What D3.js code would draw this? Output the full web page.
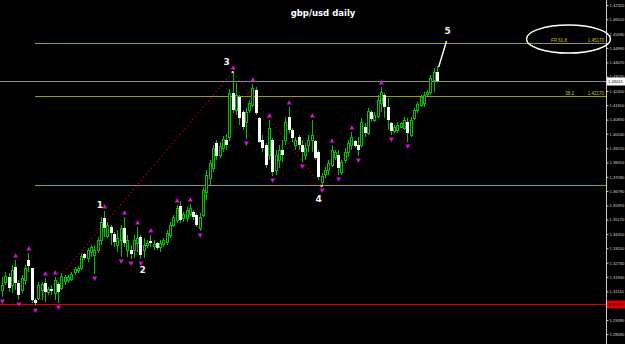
<!DOCTYPE html>
<html><head><meta charset="utf-8">
<script src="https://cdn.jsdelivr.net/npm/d3@7"></script>
<style>html,body{margin:0;padding:0;background:#000;overflow:hidden}svg{display:block}</style>
</head><body><svg id="c" width="625" height="344"></svg>
<script>
// ---- data (GBP/USD daily) ----
const openP  = [1.3119,1.3164,1.3192,1.3147,1.3249,1.3158,1.3119,1.3175,1.3288,1.3243,1.3062,1.3073,1.3119,1.3158,1.3107,1.3124,1.3102,1.3152,1.3130,1.3169,1.3175,1.3181,1.3220,1.3232,1.3243,1.3322,1.3300,1.3334,1.3317,1.3345,1.3402,1.3526,1.3424,1.3475,1.3436,1.3373,1.3402,1.3470,1.3345,1.3345,1.3345,1.3385,1.3419,1.3345,1.3373,1.3396,1.3368,1.3385,1.3362,1.3379,1.3390,1.3430,1.3487,1.3515,1.3594,1.3526,1.3526,1.3549,1.3560,1.3543,1.3470,1.3543,1.3673,1.3753,1.3809,1.3951,1.3883,1.3922,1.3968,1.3985,1.4234,1.4137,1.4211,1.4126,1.4069,1.4137,1.4166,1.4251,1.4092,1.3968,1.3939,1.3883,1.3968,1.3798,1.3854,1.3911,1.3968,1.4098,1.4024,1.3939,1.3985,1.3939,1.3883,1.3939,1.3968,1.3962,1.3900,1.3730,1.3775,1.3798,1.3826,1.3871,1.3883,1.3786,1.3854,1.3900,1.3939,1.3962,1.3939,1.3939,1.4041,1.4007,1.4126,1.4081,1.4103,1.4177,1.4222,1.4154,1.4064,1.4019,1.4024,1.4041,1.4036,1.4069,1.3996,1.4092,1.4137,1.4166,1.4177,1.4228,1.4239,1.4307,1.4352];
const highP  = [1.3192,1.3220,1.3215,1.3260,1.3288,1.3175,1.3203,1.3260,1.3328,1.3243,1.3073,1.3164,1.3164,1.3186,1.3135,1.3147,1.3192,1.3164,1.3215,1.3203,1.3203,1.3220,1.3249,1.3254,1.3328,1.3328,1.3356,1.3373,1.3373,1.3419,1.3532,1.3566,1.3503,1.3487,1.3447,1.3458,1.3487,1.3532,1.3430,1.3373,1.3430,1.3475,1.3430,1.3413,1.3402,1.3430,1.3402,1.3390,1.3402,1.3413,1.3458,1.3503,1.3543,1.3600,1.3622,1.3560,1.3588,1.3605,1.3571,1.3554,1.3554,1.3702,1.3798,1.3854,1.3939,1.3968,1.3956,1.3990,1.4002,1.4256,1.4352,1.4290,1.4222,1.4137,1.4149,1.4194,1.4285,1.4268,1.4098,1.3996,1.3951,1.4081,1.3979,1.3911,1.3939,1.3968,1.4098,1.4154,1.4036,1.3985,1.3996,1.3968,1.3951,1.3996,1.4081,1.3968,1.3911,1.3781,1.3815,1.3854,1.3939,1.3911,1.3911,1.3854,1.3922,1.3968,1.4013,1.3968,1.3985,1.4092,1.4064,1.4149,1.4137,1.4126,1.4222,1.4268,1.4234,1.4205,1.4069,1.4053,1.4069,1.4069,1.4098,1.4092,1.4098,1.4149,1.4183,1.4222,1.4239,1.4251,1.4336,1.4375,1.4386];
const lowP   = [1.3079,1.3147,1.3107,1.3102,1.3119,1.3062,1.3102,1.3147,1.3220,1.3045,1.3028,1.3062,1.3062,1.3051,1.3090,1.3090,1.3062,1.3045,1.3119,1.3147,1.3158,1.3169,1.3203,1.3215,1.3232,1.3288,1.3277,1.3305,1.3209,1.3328,1.3373,1.3419,1.3413,1.3373,1.3362,1.3334,1.3305,1.3362,1.3305,1.3294,1.3300,1.3334,1.3294,1.3300,1.3356,1.3362,1.3345,1.3345,1.3334,1.3362,1.3373,1.3413,1.3475,1.3498,1.3498,1.3503,1.3503,1.3532,1.3515,1.3475,1.3453,1.3532,1.3628,1.3713,1.3786,1.3854,1.3866,1.3900,1.3911,1.3962,1.4120,1.4109,1.4053,1.4024,1.3973,1.4120,1.4154,1.4109,1.3951,1.3900,1.3809,1.3854,1.3764,1.3770,1.3809,1.3843,1.3939,1.4007,1.3956,1.3911,1.3911,1.3843,1.3854,1.3900,1.3900,1.3854,1.3741,1.3707,1.3753,1.3770,1.3815,1.3854,1.3770,1.3770,1.3837,1.3871,1.3911,1.3922,1.3877,1.3928,1.3985,1.3996,1.4069,1.4069,1.4092,1.4126,1.4092,1.4024,1.3996,1.4007,1.4007,1.4036,1.4024,1.3956,1.3985,1.4081,1.4120,1.4154,1.4154,1.4217,1.4222,1.4239,1.4290];
const closeP = [1.3147,1.3198,1.3130,1.3232,1.3158,1.3090,1.3186,1.3243,1.3254,1.3062,1.3045,1.3147,1.3152,1.3107,1.3124,1.3113,1.3175,1.3107,1.3198,1.3192,1.3192,1.3209,1.3237,1.3243,1.3311,1.3300,1.3345,1.3362,1.3345,1.3402,1.3503,1.3470,1.3487,1.3441,1.3390,1.3413,1.3470,1.3385,1.3402,1.3322,1.3402,1.3413,1.3317,1.3373,1.3385,1.3385,1.3379,1.3356,1.3385,1.3402,1.3441,1.3487,1.3532,1.3583,1.3515,1.3549,1.3571,1.3583,1.3532,1.3487,1.3532,1.3685,1.3770,1.3837,1.3922,1.3877,1.3934,1.3973,1.3939,1.4234,1.4137,1.4222,1.4092,1.4041,1.4126,1.4177,1.4262,1.4120,1.3956,1.3922,1.3826,1.4036,1.3786,1.3883,1.3911,1.3883,1.4069,1.4024,1.3979,1.3968,1.3939,1.3900,1.3922,1.3968,1.3996,1.3866,1.3758,1.3764,1.3798,1.3837,1.3911,1.3900,1.3809,1.3843,1.3900,1.3951,1.3985,1.3934,1.3911,1.4069,1.4007,1.4132,1.4086,1.4109,1.4194,1.4239,1.4154,1.4081,1.4019,1.4041,1.4053,1.4064,1.4081,1.4007,1.4081,1.4137,1.4171,1.4211,1.4222,1.4239,1.4319,1.4352,1.4302];

const fractalUp   = [4,8,13,16,31,37,41,45,53,57,70,76,81,87,94,100,106,115];
const fractalDown = [0,5,10,17,28,36,39,42,60,74,82,91,97,102,108,118,123];

const zigzagIdx   = [10, 70, 97];
const zigzagPrice = [1.3028, 1.4352, 1.3707];

const fibValues = [1.4517, 1.4217, 1.3713];
const fibNames  = ["FR 61.8", "38.2", ""];
const fibTexts  = ["1.45170", "1.42170", ""];

const axisTicks = [1.47320,1.46510,1.45690,1.44890,1.44070,1.43270,1.42450,1.41650,1.40830,1.40030,1.39210,1.38410,1.37590,1.36790,1.35970,1.35170,1.34350,1.33550,1.32730,1.31930,1.31110,1.30310,1.29490,1.28690];

const bidPrice = 1.43021;
const redLinePrice = 1.30395;

const waveLabels = ["1","2","3","4","5"];
const waveIdx    = [29.7, 42.7, 68.2, 96.1, 135.2];
const wavePrice  = [1.3600, 1.3232, 1.4409, 1.3634, 1.4585];

const pointerIdx   = [134.9, 132.5];
const pointerPrice = [1.4528, 1.4381];

const ellipseIdx = 171.9, ellipsePrice = 1.4539;

// ---- drawing ----
const W = 625, H = 344, axisX = 606;
const svg = d3.select("#c");
svg.append("rect").attr("width", W).attr("height", H).attr("fill", "#000");

const x = d3.scaleLinear().domain([0, 132]).range([2, 437]);
const y = d3.scaleLinear().domain([1.4760, 1.4760 - 0.000566 * 344]).range([0, 344]);

const green = "#00c000";
const olive = "#9c9c00";
const fontF = "Liberation Sans, Arial, sans-serif";

// horizontal fib lines
const fibStart = x(zigzagIdx[0]);
fibValues.forEach((v, k) => {
  const yy = Math.round(y(v)) + 0.5;
  svg.append("line").attr("x1", fibStart).attr("x2", axisX).attr("y1", yy).attr("y2", yy)
    .attr("stroke", olive).attr("stroke-width", 1).attr("shape-rendering", "crispEdges");
  if (fibNames[k]) {
    svg.append("text").attr("x", k === 0 ? 567 : 574).attr("y", yy - 2).attr("text-anchor", "end")
      .attr("fill", "#c8c800").attr("font-family", fontF).attr("font-size", 4.5).text(fibNames[k]);
    svg.append("text").attr("x", 604).attr("y", yy - 2).attr("text-anchor", "end")
      .attr("fill", "#c8c800").attr("font-family", fontF).attr("font-size", 4.5).text(fibTexts[k]);
  }
});

// bid (current price) line
const yBid = Math.round(y(bidPrice)) + 0.5;
svg.append("line").attr("x1", 0).attr("x2", axisX).attr("y1", yBid).attr("y2", yBid)
  .attr("stroke", "#8c8c8c").attr("stroke-width", 1).attr("shape-rendering", "crispEdges");

// red line
const yRed = Math.round(y(redLinePrice)) + 0.5;
svg.append("line").attr("x1", 0).attr("x2", axisX).attr("y1", yRed).attr("y2", yRed)
  .attr("stroke", "#e00000").attr("stroke-width", 1.2);

// zigzag dotted
const zz = zigzagIdx.map((d, k) => [x(d), y(zigzagPrice[k])]);
svg.append("path").attr("d", d3.line()(zz)).attr("fill", "none")
  .attr("stroke", "#c00000").attr("stroke-width", 1.1).attr("stroke-dasharray", "1.3,2.7");

// candles
const g = svg.append("g").attr("shape-rendering", "crispEdges");
openP.forEach((o, i) => {
  const cx = Math.round(x(i));
  const c = closeP[i];
  g.append("line").attr("x1", cx + 0.5).attr("x2", cx + 0.5)
    .attr("y1", y(highP[i])).attr("y2", y(lowP[i])).attr("stroke", green).attr("stroke-width", 1);
  const top = Math.round(y(Math.max(o, c))), bot = Math.round(y(Math.min(o, c)));
  const h = Math.max(1, bot - top);
  if (c >= o) {
    g.append("rect").attr("x", cx - 0.5).attr("y", top + 0.5).attr("width", 2).attr("height", Math.max(0.5, h))
      .attr("fill", "#000").attr("stroke", green).attr("stroke-width", 1);
  } else {
    g.append("rect").attr("x", cx - 1).attr("y", top).attr("width", 3).attr("height", h).attr("fill", "#fff");
  }
});

// fractals
const mag = "#d010d0";
const tri = d3.symbol(d3.symbolTriangle).size(11);
fractalUp.forEach(i => {
  svg.append("path").attr("d", tri()).attr("fill", mag)
    .attr("transform", `translate(${x(i) + 0.5},${y(highP[i]) - 4})`);
});
fractalDown.forEach(i => {
  svg.append("path").attr("d", tri()).attr("fill", mag)
    .attr("transform", `translate(${x(i) + 0.5},${y(lowP[i]) + 4}) rotate(180)`);
});

// zigzag vertex marks
zz.slice(1).forEach(p => {
  svg.append("rect").attr("x", p[0] - 1).attr("y", p[1] - 1).attr("width", 2).attr("height", 2).attr("fill", "#ffd0b0");
});

// wave labels
waveLabels.forEach((t, k) => {
  svg.append("text").attr("x", x(waveIdx[k])).attr("y", y(wavePrice[k]))
    .attr("text-anchor", "middle").attr("dominant-baseline", "central")
    .attr("fill", "#f0f0f0").attr("font-family", "DejaVu Sans, sans-serif").attr("font-weight", "bold")
    .attr("font-size", 9).text(t);
});

// pointer line from 5
svg.append("line").attr("x1", x(pointerIdx[0])).attr("y1", y(pointerPrice[0]))
  .attr("x2", x(pointerIdx[1])).attr("y2", y(pointerPrice[1]))
  .attr("stroke", "#fff").attr("stroke-width", 1.4);

// title
svg.append("text").attr("x", 323).attr("y", 16).attr("text-anchor", "middle")
  .attr("fill", "#fff").attr("font-family", "DejaVu Sans, sans-serif").attr("font-weight", "bold")
  .attr("font-size", 8.5).text("gbp/usd daily");

// price axis
svg.append("rect").attr("x", axisX + 1).attr("y", 0).attr("width", W - axisX).attr("height", H).attr("fill", "#000");
const yRedPx = y(redLinePrice);
const visibleTicks = axisTicks.filter(t => Math.abs(y(t) - yRedPx) > 5);
const axis = d3.axisRight(y).tickValues(visibleTicks).tickSize(2).tickPadding(1).tickFormat(d => d.toFixed(5));
const ax = svg.append("g").attr("transform", `translate(${axisX + 0.5},0)`).call(axis);
ax.select(".domain").attr("stroke", "#c8c8c8").attr("d", `M0,0V${H}`);
ax.selectAll(".tick line").attr("stroke", "#c8c8c8");
ax.selectAll(".tick text").attr("fill", "#d0d0d0").attr("font-family", fontF).attr("font-size", 4.1);

// ellipse (drawn over the axis edge as in the source)
svg.append("ellipse").attr("cx", x(ellipseIdx)).attr("cy", y(ellipsePrice)).attr("rx", 42).attr("ry", 14)
  .attr("fill", "none").attr("stroke", "#fff").attr("stroke-width", 1.5);

// bid label box
svg.append("rect").attr("x", axisX + 1).attr("y", yBid - 4).attr("width", 18).attr("height", 8).attr("fill", "#fff");
svg.append("text").attr("x", axisX + 9.5).attr("y", yBid).attr("text-anchor", "middle").attr("dominant-baseline", "central")
  .attr("fill", "#000").attr("font-family", fontF).attr("font-size", 4.1).text(bidPrice.toFixed(5));
// red label box
svg.append("rect").attr("x", axisX + 1).attr("y", yRed - 4).attr("width", 18).attr("height", 8).attr("fill", "#e00000");
svg.append("text").attr("x", axisX + 9.5).attr("y", yRed).attr("text-anchor", "middle").attr("dominant-baseline", "central")
  .attr("fill", "#000").attr("font-family", fontF).attr("font-size", 4.1).text(redLinePrice.toFixed(5));
</script></body></html>
